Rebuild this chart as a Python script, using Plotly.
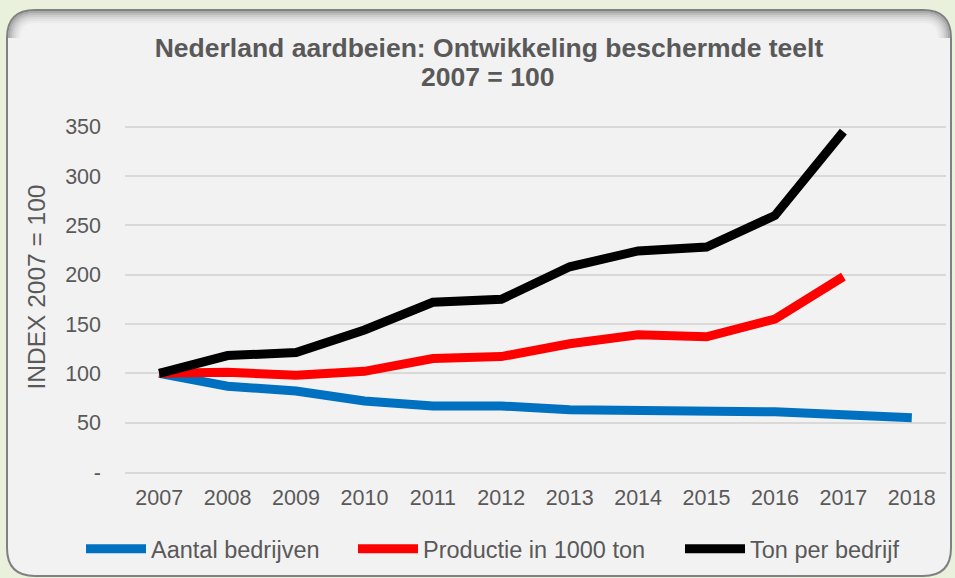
import plotly.graph_objects as go

years = [str(y) for y in range(2007, 2019)]
aantal_bedrijven = [100, 87, 82, 72, 67, 67, 63, 63, 61, 61, 58, 55]
productie = [100, 101, 98, 102, 115, 117, 130, 139, 137, 155, 198, None]
ton_per_bedrijf = [100, 118, 121, 144, 172, 175, 208, 224, 228, 260, 345, None]

series_names = ["Aantal bedrijven", "Productie in 1000 ton", "Ton per bedrijf"]
series_colors = ["#0070c0", "#ff0000", "#000000"]

y_tickvals = [0, 50, 100, 150, 200, 250, 300, 350]
y_ticktext = ["-", "50", "100", "150", "200", "250", "300", "350"]

title_line1 = "Nederland aardbeien: Ontwikkeling beschermde teelt"
title_line2 = "2007 = 100"
y_title = "INDEX 2007 = 100"

W, H = 955, 578
L, R, T, B = 125, 946, 102, 472


def px(x):
    return (x - L) / (R - L)


def py(y):
    return (B - y) / (B - T)


def rounded_rect(x0, y0, x1, y1, r):
    return (
        f"M {px(x0 + r)},{py(y0)} L {px(x1 - r)},{py(y0)} "
        f"Q {px(x1)},{py(y0)} {px(x1)},{py(y0 + r)} "
        f"L {px(x1)},{py(y1 - r)} Q {px(x1)},{py(y1)} {px(x1 - r)},{py(y1)} "
        f"L {px(x0 + r)},{py(y1)} Q {px(x0)},{py(y1)} {px(x0)},{py(y1 - r)} "
        f"L {px(x0)},{py(y0 + r)} Q {px(x0)},{py(y0)} {px(x0 + r)},{py(y0)} Z"
    )


def top_edge(x0, y0, x1, r, off):
    yy = y0 + off
    return (
        f"M {px(x0 + off)},{py(y0 + r)} Q {px(x0 + off)},{py(yy)} {px(x0 + r)},{py(yy)} "
        f"L {px(x1 - r)},{py(yy)} Q {px(x1 - off)},{py(yy)} {px(x1 - off)},{py(y0 + r)}"
    )


fig = go.Figure()
legend_ids = ["legend", "legend2", "legend3"]
legend_sym_x = [87, 359, 686]
for name, vals, col, lg in zip(series_names, [aantal_bedrijven, productie, ton_per_bedrijf],
                               series_colors, legend_ids):
    fig.add_trace(go.Scatter(x=years, y=vals, mode="lines", name=name, legend=lg,
                             line=dict(color=col, width=9)))

PX0, PY0, PX1, PY1, RAD = 7, 10, 951, 576, 28
shapes = [
    dict(type="path", xref="paper", yref="paper", layer="below",
         path=rounded_rect(PX0, PY0, PX1, PY1, RAD),
         fillcolor="#f2f2f2", line=dict(color="#808080", width=2)),
]
for i, op in enumerate([0.55, 0.4, 0.28, 0.18, 0.1, 0.05]):
    shapes.append(dict(type="path", xref="paper", yref="paper", layer="below",
                       path=top_edge(PX0, PY0, PX1, RAD, 2 + i * 2),
                       line=dict(color=f"rgba(110,110,110,{op})", width=2)))

legend_common = dict(
    orientation="h", xref="container", yref="container", xanchor="left",
    y=(H - 549) / H, yanchor="middle",
    font=dict(size=23.5, color="#595959"), bgcolor="rgba(0,0,0,0)",
    itemwidth=60,
)

fig.update_layout(
    width=W, height=H,
    margin=dict(l=L, r=W - R, t=T, b=H - B, pad=0, autoexpand=False),
    paper_bgcolor="#e9f1dc",
    plot_bgcolor="#ffffff",
    font=dict(family="Liberation Sans, Arial, sans-serif", color="#595959", size=20),
    title=dict(
        text="<b>" + title_line1 + "</b>",
        font=dict(family="Liberation Sans, Arial", size=26.5, color="#595959"),
        x=489 / W, xanchor="center", xref="container",
        y=(H - 48) / H, yanchor="middle", yref="container",
    ),
    annotations=[dict(
        text="<b>" + title_line2 + "</b>", xref="paper", yref="paper",
        x=px(487), y=py(77), xanchor="center", yanchor="middle", showarrow=False,
        font=dict(family="Liberation Sans, Arial", size=26.5, color="#595959"),
    )],
    shapes=shapes,
    showlegend=True,
    legend=dict(legend_common, x=(legend_sym_x[0] - 6) / W),
    legend2=dict(legend_common, x=(legend_sym_x[1] - 6) / W),
    legend3=dict(legend_common, x=(legend_sym_x[2] - 6) / W),
)

fig.update_xaxes(
    type="category", range=[-0.5, 11.5], showgrid=False,
    showline=True, linecolor="#d9d9d9", linewidth=2,
    ticks="", tickfont=dict(size=21.5, color="#595959"), ticklabelstandoff=5,
    fixedrange=True, automargin=False,
)
fig.update_yaxes(
    range=[0, 375], tickvals=y_tickvals, ticktext=y_ticktext,
    showgrid=True, gridcolor="#d9d9d9", gridwidth=2, zeroline=False,
    showline=False, ticks="", tickfont=dict(size=21.5, color="#595959"),
    ticklabelstandoff=23,
    title=dict(text=y_title, font=dict(size=24.5, color="#595959"), standoff=12),
    fixedrange=True, automargin=False,
)

fig.write_html("out.html", config={"displayModeBar": False},
               post_script="document.body.style.margin='0';")
